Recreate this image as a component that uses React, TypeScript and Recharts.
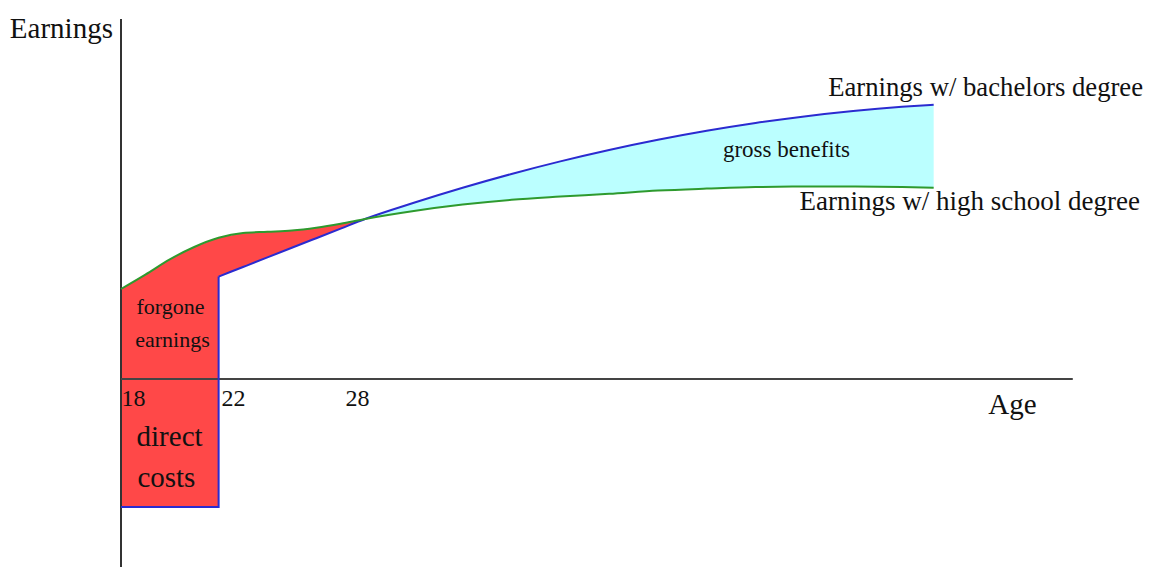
import React from 'react';
import { ComposedChart, Area, Line, XAxis, YAxis, ReferenceLine, ReferenceDot } from 'recharts';

// Ages (years); 22 appears twice: the end of college (direct costs) and the first year of work
const ages = [18, 19, 20, 21, 22, 22, 23, 24, 25, 26, 27, 28, 30, 32, 34, 36, 38, 40, 42, 44, 46, 48, 50, 51.3];
// Earnings with a high school degree
const highSchool = [22.5, 26.1, 29.9, 33, 35.3, 35.3, 36.5, 36.8, 37.1, 37.8, 38.8, 40, 42, 43.6, 44.8, 45.6, 46.3, 47.1, 47.6, 48, 48.1, 48.1, 48, 47.8];
// Earnings with a bachelors degree (negative = direct costs while in college)
const bachelors = [-32, -32, -32, -32, -32, 25.6, 28, 30.4, 32.8, 35.2, 37.6, 40, 44.05, 47.8, 51.25, 54.4, 57.25, 59.8, 62.05, 64, 65.65, 67, 68.05, 68.57];
const breakEvenAge = 28;
const workStartIndex = 5;
const tickAges = [18, 22, 28];
const tickLabels = ['18', '22', '28'];

const table = ages.map((age, i) => ({
  age,
  hs: highSchool[i],
  ba: bachelors[i],
  cost: age <= breakEvenAge ? [bachelors[i], highSchool[i]] : null,
  benefit: age >= breakEvenAge ? [highSchool[i], bachelors[i]] : null,
}));
const hsTable = table.filter((d, i) => i === 0 || ages[i] !== ages[i - 1]);
const collegeTable = table.slice(0, workStartIndex + 1);
const workTable = table.slice(workStartIndex);
const benefitTable = table.filter((d) => d.age >= breakEvenAge);

const FONT = '"Liberation Serif", "Times New Roman", serif';

type Note = { text: string; x: number; y: number; size: number; anchor: 'start' | 'middle' | 'end' };
const notes: Note[] = [
  { text: 'Earnings', x: 17.67, y: 85.25, size: 29, anchor: 'end' },
  { text: 'Age', x: 54.53, y: -8.75, size: 29, anchor: 'middle' },
  { text: 'forgone', x: 20.03, y: 16.25, size: 22, anchor: 'middle' },
  { text: 'earnings', x: 20.11, y: 8, size: 22, anchor: 'middle' },
  { text: 'direct', x: 19.99, y: -16.75, size: 29, anchor: 'middle' },
  { text: 'costs', x: 19.86, y: -27, size: 29, anchor: 'middle' },
  { text: 'gross benefits', x: 45.27, y: 55.5, size: 23, anchor: 'middle' },
  { text: 'Earnings w/ bachelors degree', x: 59.88, y: 70.8, size: 26.7, anchor: 'end' },
  { text: 'Earnings w/ high school degree', x: 59.75, y: 42.25, size: 27, anchor: 'end' },
];
const tickOffsets = [0.51, 0.61, -0.31];

function note(n: Note, key: string) {
  return (
    <ReferenceDot
      key={key}
      x={n.x}
      y={n.y}
      r={0}
      ifOverflow="visible"
      shape={(p: any) => (
        <text x={p.cx} y={p.cy} textAnchor={n.anchor} fontFamily={FONT} fontSize={n.size} fill="#111">
          {n.text}
        </text>
      )}
    />
  );
}

export default function App() {
  return (
    <div style={{ position: 'absolute', left: 0, top: 0, background: '#fff' }}>
      <ComposedChart
        width={1151}
        height={567}
        data={table}
        margin={{ top: 19, right: 5, bottom: 0, left: 121 }}
      >
        <XAxis type="number" dataKey="age" domain={[18, 60]} hide />
        <YAxis type="number" domain={[-47, 90]} hide />
        <Area
          type="linear"
          dataKey="cost"
          stroke="none"
          fill="#ff4848"
          fillOpacity={1}
          isAnimationActive={false}
        />
        <Area
          type="monotone"
          data={benefitTable}
          dataKey="benefit"
          stroke="none"
          fill="#bbffff"
          fillOpacity={1}
          isAnimationActive={false}
        />
        <ReferenceLine x={18} stroke="#333" strokeWidth={2} />
        <ReferenceLine
          segment={[{ x: 18, y: 0 }, { x: 57, y: 0 }]}
          stroke="#444"
          strokeWidth={2}
        />
        <Line
          type="linear"
          data={collegeTable}
          dataKey="ba"
          stroke="#2b2bd0"
          strokeWidth={2}
          dot={false}
          isAnimationActive={false}
        />
        <Line
          type="monotone"
          data={workTable}
          dataKey="ba"
          stroke="#2b2bd0"
          strokeWidth={2}
          dot={false}
          isAnimationActive={false}
        />
        <Line
          type="monotone"
          data={hsTable}
          dataKey="hs"
          stroke="#2e9a2e"
          strokeWidth={2}
          dot={false}
          isAnimationActive={false}
        />
        {tickAges.map((a, i) =>
          note({ text: tickLabels[i], x: a + tickOffsets[i], y: -6.75, size: 24, anchor: 'middle' }, 't' + i)
        )}
        {notes.map((n, i) => note(n, 'n' + i))}
      </ComposedChart>
    </div>
  );
}
